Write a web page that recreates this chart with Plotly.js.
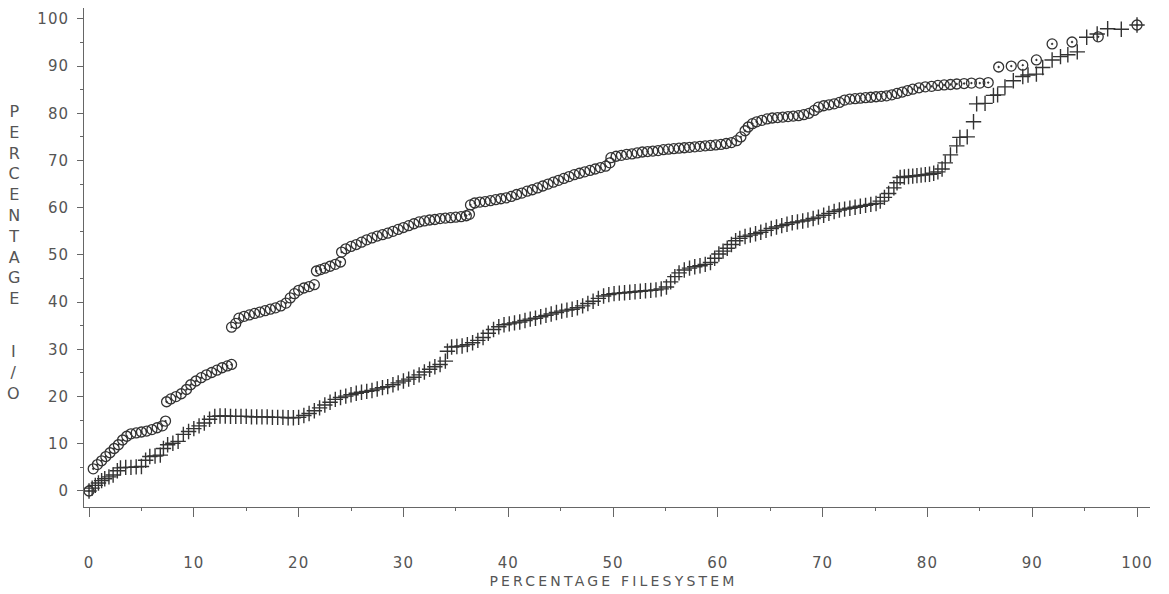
<!DOCTYPE html>
<html>
<head>
<meta charset="utf-8">
<script src="https://cdn.plot.ly/plotly-3.0.1.min.js"></script>
<style>html,body{margin:0;padding:0;background:#fff;}</style>
</head>
<body>
<div id="chart" style="width:1169px;height:594px;"></div>
<script>
// Upper series (circle markers): percentage filesystem vs percentage I/O
const xCircle = [0,0.4,0.8,1.2,1.6,2.0,2.4,2.8,3.2,3.6,4.0,4.5,5.0,5.5,6.0,6.5,7.0,7.3,
  7.4,7.8,8.3,8.8,9.3,9.7,10.2,10.7,11.2,11.7,12.2,12.7,13.2,13.6,
  13.6,14.0,14.3,14.8,15.3,15.8,16.3,16.8,17.3,17.8,18.3,18.8,19.2,19.6,20.0,20.5,21.0,21.5,
  21.7,22.1,22.5,23.0,23.5,24.0,
  24.1,24.5,25.0,25.5,26.0,26.5,27.0,27.5,28.0,28.5,29.0,29.5,30.0,30.5,31.0,31.5,32.0,32.5,33.0,33.5,34.0,34.5,35.0,35.5,36.0,36.3,
  36.4,36.8,37.3,37.8,38.3,38.8,39.3,39.8,40.3,40.8,41.3,41.8,42.3,42.8,43.3,43.8,44.3,44.8,45.3,45.8,46.3,46.8,47.3,47.8,48.3,48.8,49.3,49.7,
  49.8,50.3,50.8,51.3,51.8,52.3,52.8,53.3,53.8,54.3,54.8,55.3,55.8,56.3,56.8,57.3,57.8,58.3,58.8,59.3,59.8,60.3,60.8,61.3,61.8,62.2,
  62.6,62.9,63.3,63.7,64.2,64.7,65.2,65.7,66.2,66.7,67.2,67.7,68.2,68.7,69.2,69.6,70.1,70.6,71.1,71.6,72.1,72.6,73.1,73.6,74.1,74.6,75.1,75.6,76.1,76.6,77.1,77.6,78.1,78.6,79.2,79.8,80.4,81.0,81.6,82.2,82.8,83.5,84.2,85.0,85.8,
  86.8,88.0,89.1,90.4,91.9,93.8,96.3,100];
const yCircle = [0,4.7,5.6,6.4,7.3,8.1,9.0,9.8,10.8,11.6,12.1,12.3,12.5,12.7,13.0,13.4,13.8,14.8,
  18.9,19.5,20.0,20.6,21.5,22.5,23.3,24.0,24.6,25.1,25.6,26.1,26.5,26.8,
  34.7,35.5,36.6,37.0,37.3,37.6,37.9,38.2,38.5,38.8,39.2,39.8,40.9,41.8,42.5,43.0,43.3,43.7,
  46.6,46.9,47.2,47.6,48.0,48.5,
  50.6,51.3,51.8,52.2,52.7,53.2,53.6,54.0,54.3,54.6,55.0,55.4,55.8,56.2,56.6,57.0,57.2,57.4,57.5,57.7,57.8,57.9,58.0,58.1,58.3,58.6,
  60.6,61.0,61.2,61.3,61.5,61.7,61.9,62.1,62.4,62.8,63.1,63.5,63.8,64.2,64.6,65.0,65.4,65.8,66.2,66.6,67.0,67.3,67.6,67.9,68.2,68.5,68.8,69.5,
  70.6,70.9,71.1,71.3,71.4,71.6,71.8,71.9,72.0,72.1,72.3,72.4,72.5,72.6,72.7,72.8,72.9,73.0,73.1,73.2,73.3,73.4,73.6,73.8,74.2,75.0,
  76.3,77.1,77.8,78.2,78.5,78.8,79.0,79.1,79.2,79.3,79.4,79.5,79.7,80.0,80.6,81.3,81.6,81.8,82.0,82.3,82.8,83.0,83.1,83.2,83.3,83.4,83.5,83.6,83.7,83.9,84.2,84.5,84.8,85.1,85.4,85.6,85.7,85.9,86.0,86.1,86.2,86.3,86.4,86.4,86.5,
  89.8,90.0,90.2,91.3,94.7,95.1,96.2,98.7];

// Lower series (plus markers)
const xPlus = [0,0.3,0.6,0.9,1.2,1.5,1.9,2.3,2.7,3.0,3.5,4.0,4.5,5.0,5.4,5.8,6.3,6.8,7.1,7.5,8.0,8.5,9.0,9.5,10.0,10.5,11.0,11.5,12.0,
  12.5,13.0,13.5,14.0,14.5,15.0,15.5,16.0,16.5,17.0,17.5,18.0,18.5,19.0,19.5,20.0,20.5,21.0,21.5,22.0,22.5,23.0,23.5,24.0,24.5,25.0,25.5,26.0,26.5,27.0,27.5,28.0,28.5,29.0,29.5,30.0,30.5,31.0,31.5,32.0,32.5,33.0,33.5,34.0,
  34.2,34.6,35.1,35.6,36.1,36.6,37.1,37.6,38.1,38.6,39.1,39.6,40.1,40.6,41.1,41.6,42.1,42.6,43.1,43.6,44.1,44.6,45.1,45.6,46.1,46.6,47.1,47.6,48.1,48.6,49.1,49.6,50.1,50.6,51.1,51.6,52.1,52.6,53.1,53.6,54.1,54.6,55.1,
  55.5,55.9,56.3,56.8,57.3,57.8,58.3,58.8,59.3,59.7,60.1,60.5,60.9,61.3,61.7,62.1,62.6,63.1,63.6,64.1,64.6,65.1,65.6,66.1,66.6,67.1,67.6,68.1,68.6,69.1,69.6,70.1,70.6,71.1,71.6,72.1,72.6,73.1,73.6,74.1,74.6,75.1,75.5,75.9,76.3,76.8,
  77.1,77.4,77.8,78.2,78.6,79.0,79.4,79.8,80.2,80.6,81.0,81.4,81.7,82.2,82.8,83.1,83.8,84.4,84.7,85.5,86.3,86.7,87.4,88.2,89.1,89.6,90.4,91.0,91.9,92.7,93.4,94.3,95.2,96.2,97.2,98.5,100];
const yPlus = [0,0.6,1.2,1.7,2.2,2.6,3.0,3.4,4.3,4.9,5.0,5.0,5.1,5.2,6.5,7.3,7.4,7.6,9.0,9.8,10.1,10.5,12.0,12.6,13.2,13.8,14.4,15.2,15.8,
  15.9,15.9,15.8,15.8,15.8,15.8,15.7,15.7,15.7,15.7,15.6,15.6,15.6,15.5,15.5,15.6,16.0,16.4,17.0,17.6,18.2,18.8,19.4,19.8,20.1,20.4,20.7,20.9,21.1,21.3,21.6,21.9,22.1,22.5,22.9,23.3,23.7,24.1,24.6,25.2,25.8,26.3,26.8,27.5,
  29.6,30.5,30.6,30.7,31.0,31.4,31.9,32.5,33.4,34.2,34.8,35.2,35.4,35.6,35.8,36.1,36.4,36.6,36.9,37.2,37.5,37.8,38.1,38.3,38.5,38.8,39.2,39.7,40.2,40.8,41.3,41.6,41.8,41.9,42.0,42.1,42.2,42.3,42.4,42.5,42.6,42.8,43.2,
  44.3,45.4,46.2,46.8,47.2,47.5,47.7,48.0,48.4,49.3,50.2,50.8,51.4,52.2,53.0,53.5,53.9,54.2,54.5,54.8,55.2,55.6,55.9,56.2,56.5,56.8,57.0,57.2,57.4,57.7,58.0,58.4,58.8,59.2,59.5,59.7,59.9,60.1,60.3,60.5,60.7,60.9,61.4,62.2,63.0,64.2,
  65.3,66.4,66.5,66.6,66.7,66.8,66.9,67.0,67.1,67.3,67.6,68.2,69.5,71.2,73.1,74.9,75.0,78.2,82.0,82.1,83.8,83.9,85.6,86.9,87.8,88.1,88.3,89.7,91.3,92.0,92.4,93.0,96.1,96.8,97.9,97.8,98.7];

const xTickVals = [0,10,20,30,40,50,60,70,80,90,100];
const xTickText = ['0','10','20','30','40','50','60','70','80','90','100'];
const yTickVals = [0,10,20,30,40,50,60,70,80,90,100];
const yTickText = ['0','10','20','30','40','50','60','70','80','90','100'];
const minorTickVals = [5,15,25,35,45,55,65,75,85,95];
const xTitle = 'PERCENTAGE FILESYSTEM';
const yTitleTop = 'PERCENTAGE';
const yTitleBottom = 'I/O';

const ink = '#333';
const textInk = '#555';
const tickFont = {family: 'DejaVu Sans', size: 15, color: textInk};

const traces = [
  {x: xPlus, y: yPlus, type: 'scatter', mode: 'markers',
   marker: {symbol: 'cross-thin-open', size: 11, color: ink, line: {color: ink, width: 1.4}}},
  {x: xCircle, y: yCircle, type: 'scatter', mode: 'markers',
   marker: {symbol: 'circle-open-dot', size: 10, color: ink, line: {color: ink, width: 1.3}}}
];

const layout = {
  width: 1169, height: 594,
  margin: {l: 84, r: 19, t: 8, b: 87},
  paper_bgcolor: '#fff', plot_bgcolor: '#fff',
  showlegend: false,
  xaxis: {
    range: [-0.48, 101.24], showgrid: false, zeroline: false,
    showline: true, linecolor: '#666', linewidth: 1,
    ticks: 'outside', ticklen: 9, tickwidth: 1, tickcolor: '#666',
    tickmode: 'array', tickvals: xTickVals, ticktext: xTickText,
    tickfont: tickFont, ticklabelstandoff: 33,
    minor: {tickmode: 'array', tickvals: minorTickVals, ticks: 'outside', ticklen: 3, tickcolor: '#666', showgrid: false}
  },
  yaxis: {
    range: [-3.39, 102.3], showgrid: false, zeroline: false,
    showline: true, linecolor: '#666', linewidth: 1,
    ticks: 'outside', ticklen: 6, tickwidth: 1, tickcolor: '#666',
    tickmode: 'array', tickvals: yTickVals, ticktext: yTickText,
    tickfont: tickFont, ticklabelstandoff: 5,
    minor: {tickmode: 'array', tickvals: minorTickVals, ticks: 'outside', ticklen: 3, tickcolor: '#666', showgrid: false}
  },
  annotations: [
    {text: xTitle, xref: 'x', yref: 'paper', x: 50, y: -0.1483, xanchor: 'center', yanchor: 'middle',
     showarrow: false, font: {family: 'DejaVu Sans', size: 14, color: textInk}},
    {text: yTitleTop.split('').join('<br>'), xref: 'paper', yref: 'paper', x: -0.0657, y: 0.605,
     xanchor: 'center', yanchor: 'middle', showarrow: false,
     font: {family: 'DejaVu Sans', size: 16, color: textInk}},
    {text: yTitleBottom.split('').join('<br>'), xref: 'paper', yref: 'paper', x: -0.0657, y: 0.2695,
     xanchor: 'center', yanchor: 'middle', showarrow: false,
     font: {family: 'DejaVu Sans', size: 16, color: textInk}}
  ]
};

Plotly.newPlot('chart', traces, layout, {staticPlot: true, displayModeBar: false}).then(function (gd) {
  const t = gd.querySelectorAll('.annotation-text');
  if (t.length) { t[0].style.letterSpacing = '3.2px'; }
  gd.querySelectorAll('.xtick text, .ytick text').forEach(function (el) { el.style.letterSpacing = '1px'; });
});
</script>
</body>
</html>
